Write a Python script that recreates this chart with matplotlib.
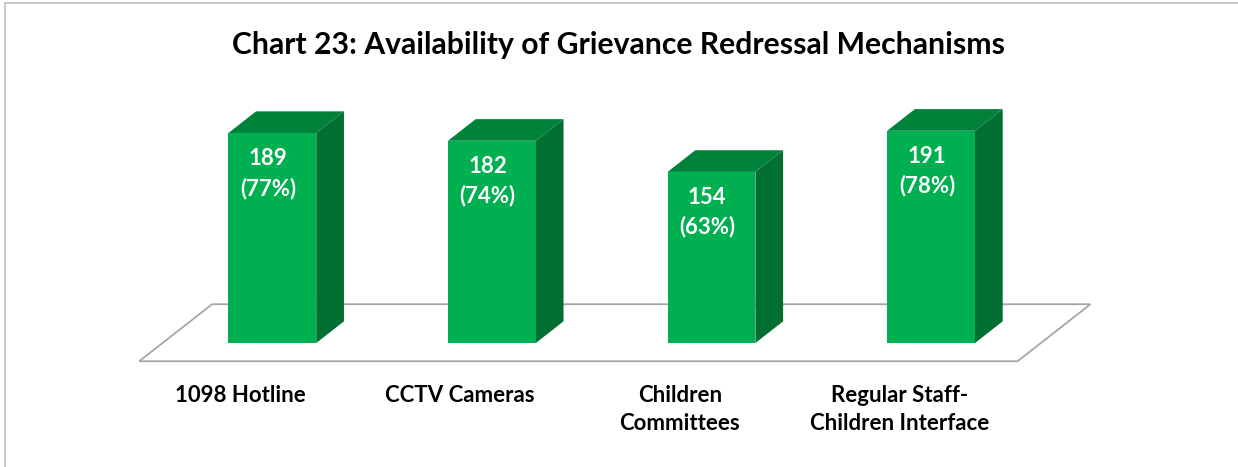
import matplotlib.pyplot as plt
from matplotlib.patches import Polygon

# data
categories = ["1098 Hotline", "CCTV Cameras", "Children\nCommittees",
              "Regular Staff-\nChildren Interface"]
counts = [189, 182, 154, 191]
percents = [77, 74, 63, 78]

# colours
front_col = "#00B050"
side_col = "#006F30"
top_col = "#00823A"
floor_edge = "#A6A6A6"

plt.rcParams['font.family'] = ['Lato', 'DejaVu Sans']

fig = plt.figure(figsize=(12.38, 4.67), dpi=100)
ax = fig.add_axes([0, 0, 1, 1])
ax.set_xlim(-1.134, 4.504)
ax.set_ylim(-111.6, 308.7)
ax.axis('off')

# 3d projection: depth d in [0, 1]
DX, DY = 0.332, 51.3
d_front, d_back = 0.32, 0.70
bar_w = 0.40


def proj(x, v, d):
    return (x + d * DX, v + (d - d_front) * DY)


n = len(categories)
# floor
floor = [proj(-0.5, 0, 0), proj(n - 0.5, 0, 0), proj(n - 0.5, 0, 1), proj(-0.5, 0, 1)]
ax.add_patch(Polygon(floor, closed=True, facecolor='white', edgecolor=floor_edge,
                     linewidth=1.3, zorder=1))

for i, (c, p) in enumerate(zip(counts, percents)):
    x0, x1 = i - bar_w / 2, i + bar_w / 2
    front = [proj(x0, 0, d_front), proj(x1, 0, d_front), proj(x1, c, d_front), proj(x0, c, d_front)]
    side = [proj(x1, 0, d_front), proj(x1, 0, d_back), proj(x1, c, d_back), proj(x1, c, d_front)]
    top = [proj(x0, c, d_front), proj(x1, c, d_front), proj(x1, c, d_back), proj(x0, c, d_back)]
    ax.add_patch(Polygon(side, closed=True, facecolor=side_col, edgecolor='none', zorder=2))
    ax.add_patch(Polygon(top, closed=True, facecolor=top_col, edgecolor='none', zorder=2))
    ax.add_patch(Polygon(front, closed=True, facecolor=front_col, edgecolor='none', zorder=3))
    cx, cy = proj(i, c, d_front)
    ax.annotate(f"{c}\n({p}%)", (cx, cy), xytext=(-3, -11), textcoords='offset points',
                ha='center', va='top', color='white', fontsize=16, fontweight='bold',
                linespacing=1.45, zorder=4)
    lx, ly = proj(i, 0, 0)
    ax.annotate(categories[i], (lx, ly), xytext=(-6, -17),
                textcoords='offset points', ha='center', va='top', color='black',
                fontsize=16, fontweight='bold', linespacing=1.42)

fig.text(0.5, 1 - 45 / 467, "Chart 23: Availability of Grievance Redressal Mechanisms",
         ha='center', va='center', fontsize=21.7, fontweight='bold', color='black')

# chart frame (only top and left edges visible)
fig.add_artist(plt.Line2D([5 / 1238, 5 / 1238], [0, 1 - 3 / 467], color='#BFBFBF', lw=1.2))
fig.add_artist(plt.Line2D([5 / 1238, 1], [1 - 3 / 467, 1 - 3 / 467], color='#BFBFBF', lw=1.2))

fig.savefig("out.png", dpi=100, facecolor='white')
